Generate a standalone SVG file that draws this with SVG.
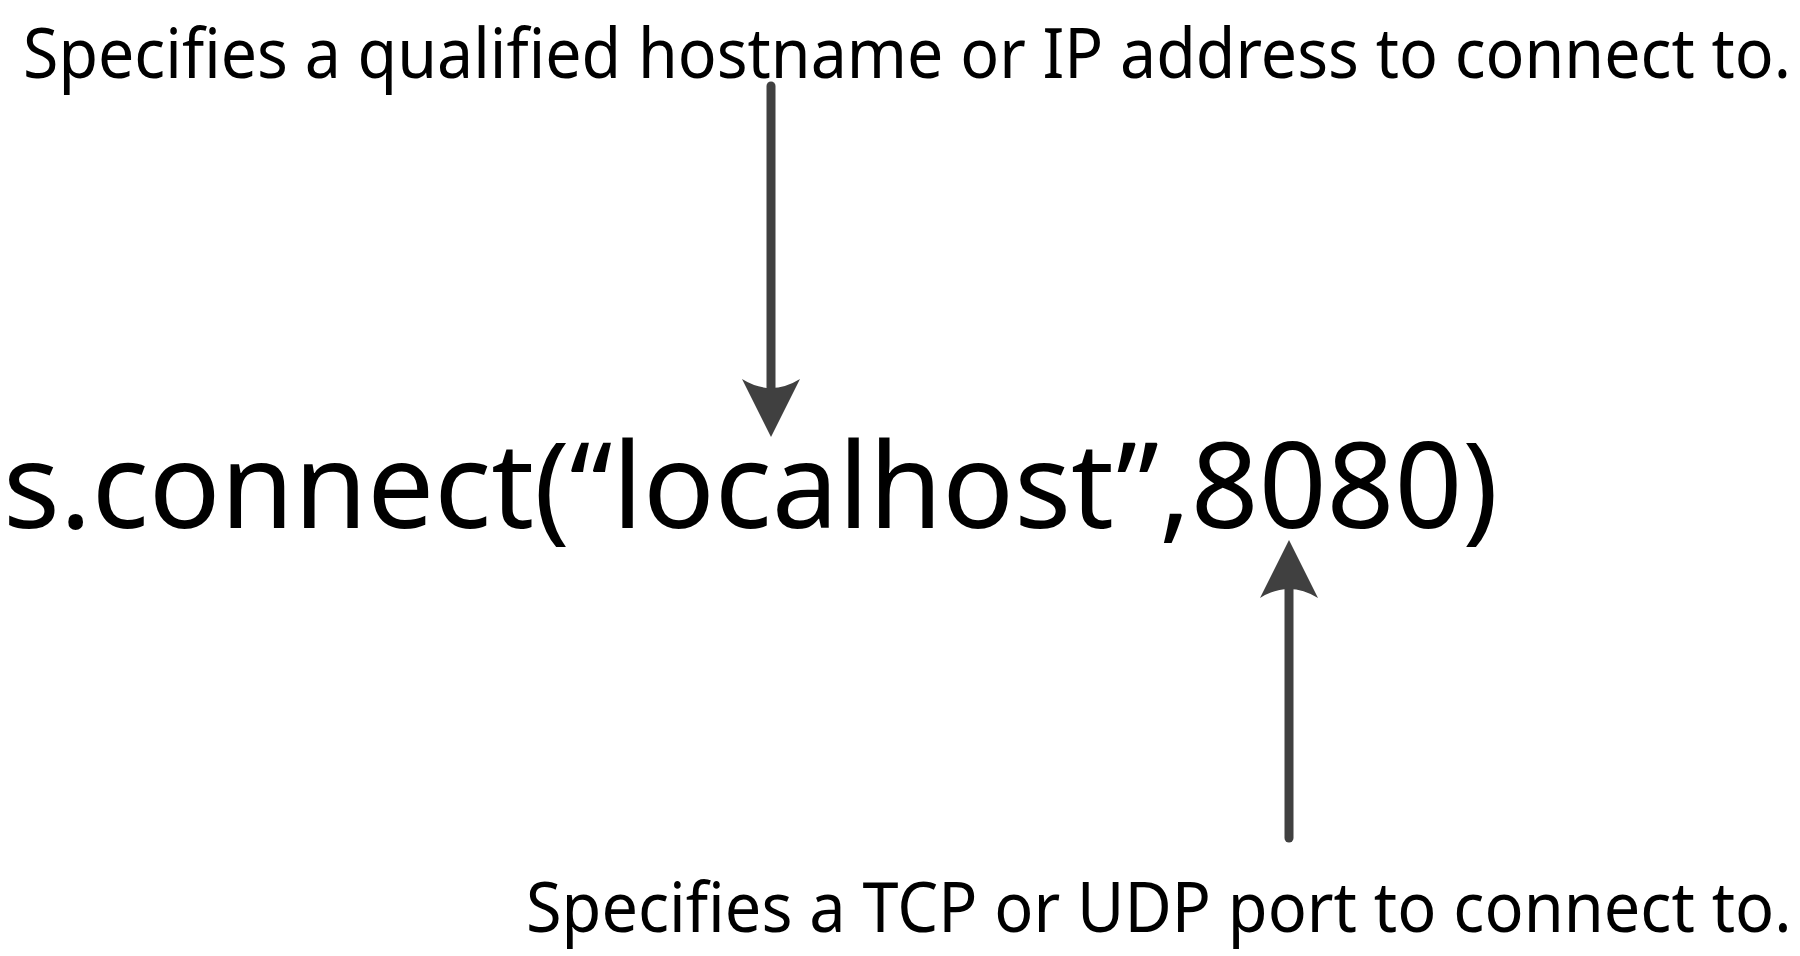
<svg xmlns="http://www.w3.org/2000/svg" width="1800" height="956" viewBox="0 0 1800 956">
<style>
.lbl{font-family:"Noto Sans","Open Sans",sans-serif;fill:#000;}
.conn{stroke:#404040;stroke-width:9;stroke-linecap:round;fill:none;}
</style>
<defs>
<marker id="ah" markerUnits="userSpaceOnUse" markerWidth="60" markerHeight="60" viewBox="0 -30 60 60" refX="9" refY="0" orient="auto" overflow="visible">
<path d="M58,0 L0,-29 Q18,0 0,29 Z" fill="#404040"/>
</marker>
</defs>
<rect width="1800" height="956" fill="#fff"/>
<g id="host-label">
<text class="lbl" transform="translate(23,78) scale(0.8,1)" x="0" y="0" font-size="69" textLength="2210" lengthAdjust="spacingAndGlyphs">Specifies a qualified hostname or IP address to connect to.</text>
</g>
<g id="code">
<text class="lbl" x="3" y="528" font-size="118" textLength="1495" lengthAdjust="spacingAndGlyphs">s.connect(“localhost”,8080)</text>
</g>
<g id="port-label">
<text class="lbl" transform="translate(526,932) scale(0.8,1)" x="0" y="0" font-size="69" textLength="1582" lengthAdjust="spacingAndGlyphs">Specifies a TCP or UDP port to connect to.</text>
</g>
<g id="connectors">
<line class="conn" x1="771" y1="86" x2="771" y2="388" marker-end="url(#ah)"/>
<line class="conn" x1="1289" y1="838" x2="1289" y2="589" marker-end="url(#ah)"/>
</g>
</svg>
